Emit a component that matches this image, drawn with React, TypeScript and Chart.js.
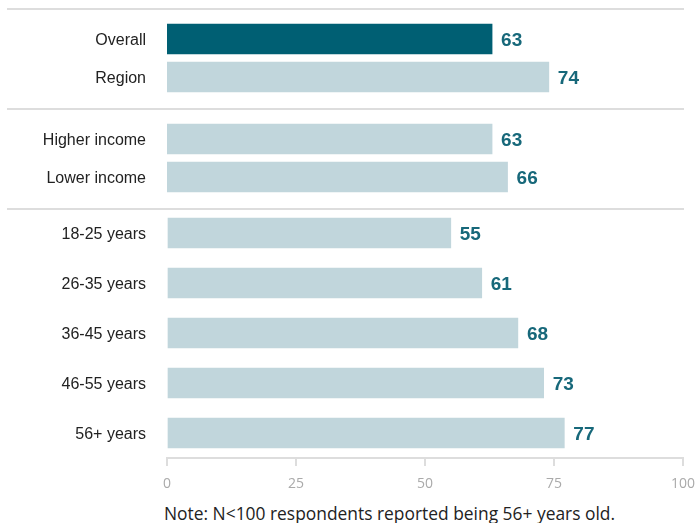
import React, { useEffect, useRef } from "react";
import { Chart, registerables } from "chart.js";
Chart.register(...registerables);

const summaryLabels = ["Overall", "Region"];
const summaryValues = [63, 74];
const incomeLabels = ["Higher income", "Lower income"];
const incomeValues = [63, 66];
const ageLabels = ["18-25 years", "26-35 years", "36-45 years", "46-55 years", "56+ years"];
const ageValues = [55, 61, 68, 73, 77];
const xTicks = [0, 25, 50, 75, 100];
const noteText = "Note: N<100 respondents reported being 56+ years old.";

const DARK = "#005f73";
const LIGHT = "#c1d6dc";
const VALUE_COLOR = "#17687a";
const SEP_COLOR = "#dddddd";
const LABEL_FONT = "'Liberation Sans', Arial, sans-serif";
const TICK_FONT = "'Open Sans', sans-serif";

const separatorPlugin = {
  id: "separator",
  afterDraw(chart: any) {
    const ctx = chart.ctx;
    ctx.save();
    ctx.strokeStyle = SEP_COLOR;
    ctx.lineWidth = 2;
    ctx.beginPath();
    ctx.moveTo(7, 1);
    ctx.lineTo(684, 1);
    ctx.stroke();
    ctx.restore();
  },
};

const valueLabelPlugin = {
  id: "valueLabels",
  afterDatasetsDraw(chart: any) {
    const ctx = chart.ctx;
    const meta = chart.getDatasetMeta(0);
    const data = chart.data.datasets[0].data;
    ctx.save();
    ctx.font = `bold 19px ${LABEL_FONT}`;
    ctx.fillStyle = VALUE_COLOR;
    ctx.textAlign = "left";
    ctx.textBaseline = "middle";
    meta.data.forEach((bar: any, i: number) => {
      ctx.fillText(String(data[i]), bar.x + 9, bar.y + 2);
    });
    ctx.restore();
  },
};

function Panel(props: {
  labels: string[];
  values: number[];
  colors: string[];
  showAxis: boolean;
  height: number;
  padTop: number;
  padBottom: number;
}) {
  const ref = useRef<HTMLCanvasElement>(null);
  useEffect(() => {
    if (!ref.current) return;
    const chart = new Chart(ref.current, {
      type: "bar",
      data: {
        labels: props.labels,
        datasets: [
          {
            data: props.values,
            backgroundColor: props.colors,
            barThickness: 30,
            borderWidth: 0,
          },
        ],
      },
      options: {
        indexAxis: "y",
        animation: false,
        responsive: false,
        maintainAspectRatio: false,
        layout: { padding: { top: props.padTop, bottom: props.padBottom, left: 0, right: 13 } },
        plugins: { legend: { display: false }, tooltip: { enabled: false } },
        scales: {
          x: {
            display: props.showAxis,
            min: 0,
            max: 100,
            afterBuildTicks: (scale: any) => {
              scale.ticks = xTicks.map((v) => ({ value: v }));
            },
            afterFit: (scale: any) => {
              if (props.showAxis) scale.height = 40;
              scale.paddingLeft = 0;
              scale.paddingRight = 0;
            },
            grid: {
              drawOnChartArea: false,
              drawTicks: true,
              tickLength: 8,
              color: SEP_COLOR,
              lineWidth: 2,
            },
            border: { display: true, color: SEP_COLOR, width: 2 },
            ticks: {
              color: "#aaaaaa",
              font: { family: TICK_FONT, size: 14 },
              padding: 10,
              maxRotation: 0,
            },
          },
          y: {
            afterFit: (scale: any) => {
              scale.width = 167;
              scale.paddingTop = 0;
              scale.paddingBottom = 0;
            },
            grid: { display: false, drawTicks: false },
            border: { display: false },
            ticks: {
              color: "#222222",
              font: { family: LABEL_FONT, size: 16 },
              padding: 21,
              labelOffset: 1.5,
            },
          },
        },
      },
      plugins: [separatorPlugin, valueLabelPlugin],
    });
    return () => chart.destroy();
  }, []);
  return (
    <canvas
      ref={ref}
      width={696}
      height={props.height}
      style={{ display: "block", width: 696, height: props.height }}
    />
  );
}

export default function App() {
  return (
    <div style={{ position: "absolute", left: 0, top: 0, width: 696, height: 523, background: "#fff" }}>
      <div style={{ position: "absolute", left: 0, top: 8 }}>
        <Panel
          labels={summaryLabels}
          values={summaryValues}
          colors={[DARK, LIGHT]}
          showAxis={false}
          height={100}
          padTop={12}
          padBottom={12}
        />
      </div>
      <div style={{ position: "absolute", left: 0, top: 108 }}>
        <Panel
          labels={incomeLabels}
          values={incomeValues}
          colors={[LIGHT, LIGHT]}
          showAxis={false}
          height={100}
          padTop={12}
          padBottom={12}
        />
      </div>
      <div style={{ position: "absolute", left: 0, top: 208 }}>
        <Panel
          labels={ageLabels}
          values={ageValues}
          colors={ageValues.map(() => LIGHT)}
          showAxis={true}
          height={290}
          padTop={0}
          padBottom={0}
        />
      </div>
      <div
        style={{
          position: "absolute",
          left: 164,
          top: 502,
          fontFamily: TICK_FONT,
          fontSize: 17.4,
          lineHeight: "22px",
          color: "#222",
          whiteSpace: "nowrap",
        }}
      >
        {noteText}
      </div>
    </div>
  );
}
